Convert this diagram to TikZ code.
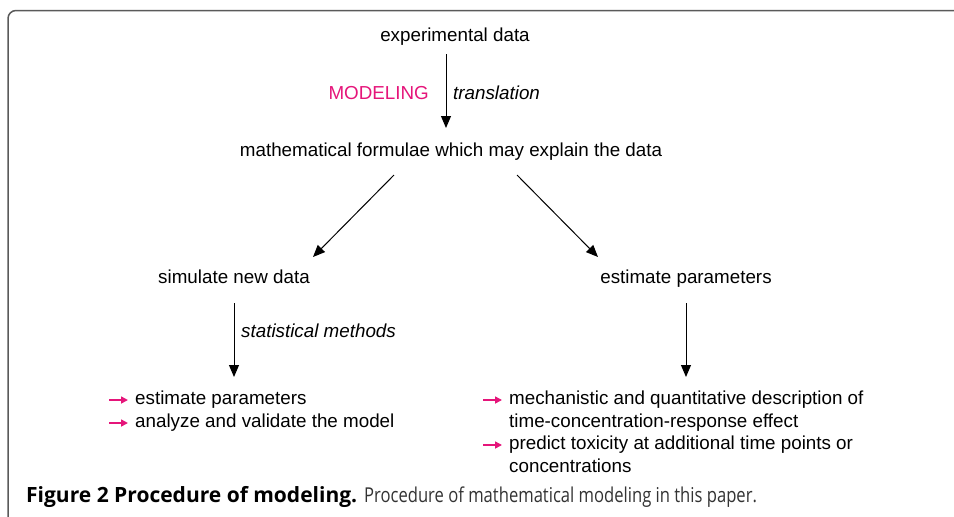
\documentclass[tikz,border=0pt]{standalone}
\usepackage{fontspec}
\usepackage{graphicx}
\setmainfont{Liberation Sans}
\newfontfamily\capfont{Open Sans}
\usetikzlibrary{arrows.meta}
\definecolor{mag}{HTML}{E5157A}
\definecolor{framegray}{HTML}{5A5A5A}
\definecolor{captxt}{HTML}{333333}
\tikzset{
  txt/.style={inner sep=0pt, font=\fontsize{18.8}{23}\selectfont},
  flow/.style={line width=1pt, -{Triangle[width=10pt,length=12pt]}},
  bul/.style={mag, line width=1.6pt, -{Triangle[width=7pt,length=7pt]}},
  item/.style={txt, anchor=base west},
}
\begin{document}
\begin{tikzpicture}[x=1pt,y=-1pt]
\useasboundingbox (0,0) rectangle (954,517);
\clip (0,0) rectangle (954,517);
\draw[framegray, line width=1.5pt, rounded corners=8pt] (8,10.5) rectangle (980,540);

\node[txt, anchor=base] (exp) at (455,41) {experimental data};
\node[txt, anchor=base] (math) at (451,156) {mathematical formulae which may explain the data};
\node[txt, mag, anchor=base east] (modl) at (429,99) {MODELING};
\node[txt, anchor=base west] (trans) at (453,99) {\itshape translation};
\node[txt, anchor=base] (sim) at (234,283) {simulate new data};
\node[txt, anchor=base] (est) at (686,283) {estimate parameters};
\node[txt, anchor=base west] (stat) at (241,337) {\itshape statistical methods};

\coordinate (a1s) at (446,54);
\coordinate (a1e) at (446,128);
\draw[flow] (a1s) -- (a1e);
\coordinate (d1s) at (394,175);
\coordinate (d1e) at (313,257);
\draw[flow] (d1s) -- (d1e);
\coordinate (d2s) at (517,175);
\coordinate (d2e) at (598,257);
\draw[flow] (d2s) -- (d2e);
\coordinate (v1s) at (234,303);
\coordinate (v1e) at (234,377);
\draw[flow] (v1s) -- (v1e);
\coordinate (v2s) at (686,303);
\coordinate (v2e) at (686,377);
\draw[flow] (v2s) -- (v2e);

% left bullets
\node[item] (l1) at (135,404) {estimate parameters};
\node[item] (l2) at (135,427) {analyze and validate the model};
\coordinate (lb1s) at (109,400); \coordinate (lb1e) at (128,400);
\coordinate (lb2s) at (109,423); \coordinate (lb2e) at (128,423);
\draw[bul] (lb1s) -- (lb1e);
\draw[bul] (lb2s) -- (lb2e);

% right bullets
\node[item] (r1a) at (509,404) {mechanistic and quantitative description of};
\node[item] (r1b) at (509,427) {time-concentration-response effect};
\node[item] (r2a) at (509,449.5) {predict toxicity at additional time points or};
\node[item] (r2b) at (509,472) {concentrations};
\coordinate (rb1s) at (483,400); \coordinate (rb1e) at (502,400);
\coordinate (rb2s) at (483,445); \coordinate (rb2e) at (502,445);
\draw[bul] (rb1s) -- (rb1e);
\draw[bul] (rb2s) -- (rb2e);

\node[inner sep=0pt, anchor=base west, font=\capfont, text=captxt] (cap) at (26,502)
  {{\fontsize{21}{24}\selectfont\bfseries\color{black}Figure 2 Procedure of modeling.}\hspace{7pt}\scalebox{0.81}[1]{\fontsize{20.5}{24}\selectfont Procedure of mathematical modeling in this paper.}};
\end{tikzpicture}
\end{document}
